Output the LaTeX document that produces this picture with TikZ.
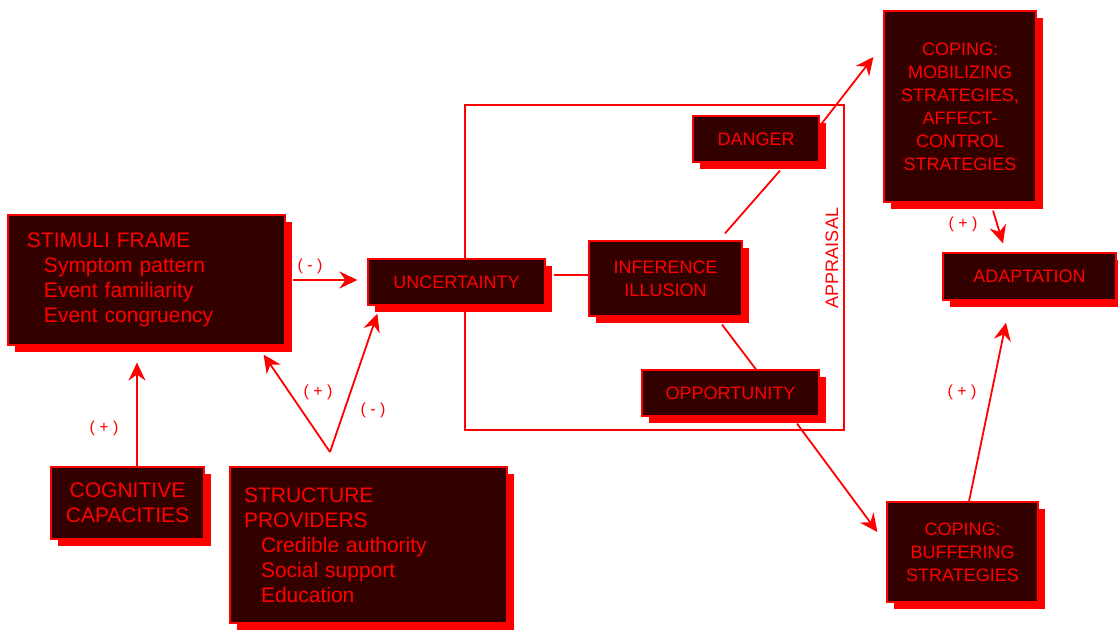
\documentclass[tikz,border=0pt]{standalone}
\usepackage{fontspec}
\setmainfont{Liberation Sans}
\usetikzlibrary{shadows,arrows.meta,calc}
\definecolor{darkbox}{HTML}{330000}
\begin{document}
\begin{tikzpicture}[x=1pt,y=-1pt]
\tikzset{stress box/.style={draw=red,line width=1.2pt,fill=darkbox,text=red,align=center,inner sep=0pt,
    font=\fontsize{18}{23}\selectfont,
    drop shadow={fill=red,opacity=1,shadow xshift=7pt,shadow yshift=-7pt}},
  big text/.style={font=\fontsize{21}{25}\selectfont},
  link/.style={red,line width=1.8pt},
  arrow link/.style={link,-{Stealth[length=18pt,width=17pt,inset=6pt]}},
  sign/.style={text=red,font=\fontsize{16}{16}\selectfont}}
\useasboundingbox (0,0) rectangle (1118,631);
\node[draw=red,line width=1.2pt,minimum width=379pt,minimum height=325pt] (appraisal) at (654.5,267.5) {};
\node[text=red,rotate=90,font=\fontsize{18}{18}\selectfont] (appraisal label) at (832,258) {APPRAISAL};
\node[stress box,big text,align=left,text width=239pt,inner xsep=19pt,minimum height=130pt] (stimuli) at (146.5,280)
  {STIMULI FRAME\\\hspace*{17pt}Symptom pattern\\\hspace*{17pt}Event familiarity\\\hspace*{17pt}Event congruency};
\node[stress box,big text,minimum width=153pt,minimum height=72pt] (cognitive) at (127.5,503) {COGNITIVE\\CAPACITIES};
\node[stress box,big text,align=left,text width=249pt,inner xsep=14pt,minimum height=156pt] (structure) at (368.5,545)
  {STRUCTURE\\PROVIDERS\\\hspace*{17pt}Credible authority\\\hspace*{17pt}Social support\\\hspace*{17pt}Education};
\node[stress box,minimum width=177pt,minimum height=46pt] (uncertainty) at (456.5,282) {UNCERTAINTY};
\node[stress box,minimum width=153pt,minimum height=75pt] (inference) at (665.5,278.5) {INFERENCE\\ILLUSION};
\node[stress box,minimum width=126pt,minimum height=46pt] (danger) at (756,139) {DANGER};
\node[stress box,minimum width=177pt,minimum height=46pt] (opportunity) at (730.5,393) {OPPORTUNITY};
\node[stress box,minimum width=152pt,minimum height=191pt] (mobilizing) at (960,106.5)
  {COPING:\\MOBILIZING\\STRATEGIES,\\AFFECT-\\CONTROL\\STRATEGIES};
\node[stress box,minimum width=173pt,minimum height=47pt] (adaptation) at (1029.5,276.5) {ADAPTATION};
\node[stress box,minimum width=151pt,minimum height=100pt] (buffering) at (962.5,552) {COPING:\\BUFFERING\\STRATEGIES};
\coordinate (split) at (330,452);
\draw[arrow link] ($(stimuli.east)+(7,0)$) -- ($(uncertainty.west)+(-10,-2)$);
\draw[arrow link] ($(cognitive.north)+(9.5,0)$) -- ($(stimuli.south)+(-9.5,17)$);
\draw[arrow link] (split) -- ($(stimuli.south east)+(-22,9)$);
\draw[arrow link] (split) -- ($(uncertainty.south west)+(10,8)$);
\draw[link] ($(uncertainty.east)+(8,-7)$) -- ($(inference.west)+(0,-3.5)$);
\draw[link] ($(inference.north)+(59.5,-7)$) -- ($(danger.south)+(24,8)$);
\draw[link] ($(inference.south)+(56.5,8)$) -- ($(opportunity.north)+(25.5,0)$);
\draw[arrow link] ($(danger.east)+(1,-14)$) -- ($(mobilizing.west)+(-10,-49.5)$);
\draw[arrow link] ($(opportunity.south)+(66.5,7)$) -- ($(buffering.west)+(-9,-20)$);
\draw[arrow link] ($(mobilizing.south)+(33,8)$) -- ($(adaptation.north)+(-26.5,-9)$);
\draw[arrow link] ($(buffering.north)+(6.5,0)$) -- ($(adaptation.south)+(-23.5,22)$);
\node[sign] (s1) at (310,266) {( - )};
\node[sign] (s2) at (104,428) {( + )};
\node[sign] (s3) at (318,392) {( + )};
\node[sign] (s4) at (373,410) {( - )};
\node[sign] (s5) at (963,224) {( + )};
\node[sign] (s6) at (962,392) {( + )};
\end{tikzpicture}
\end{document}
